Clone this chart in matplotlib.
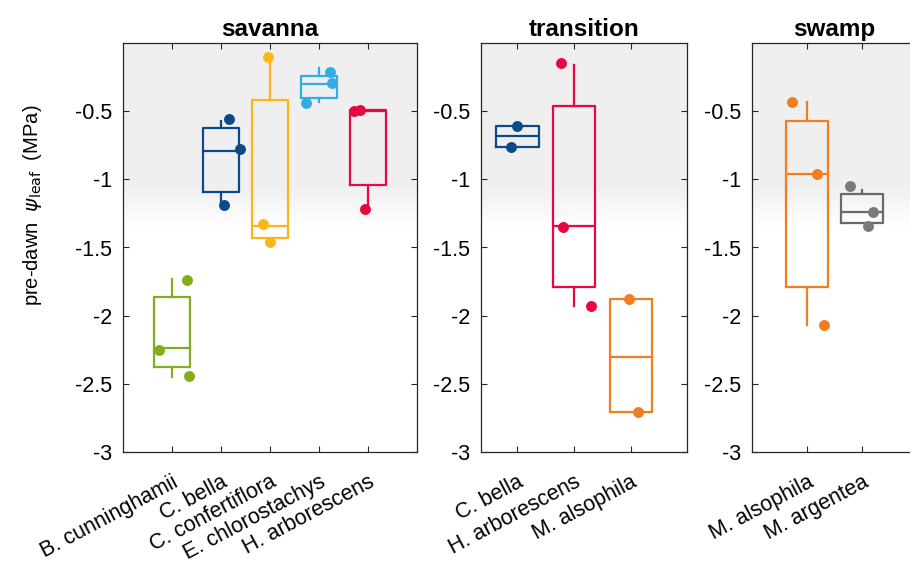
import numpy as np
import matplotlib
matplotlib.use('Agg')
import matplotlib.pyplot as plt
import matplotlib.transforms as mtransforms

plt.rcParams['font.family'] = ['Liberation Sans', 'DejaVu Sans']
plt.rcParams['mathtext.fontset'] = 'dejavusans'

# ------------------------- datos -------------------------
sav_names = ['B. cunninghamii', 'C. bella', 'C. confertiflora', 'E. chlorostachys', 'H. arborescens']
sav_colors = ['#82ad1f', '#0b4a86', '#fbb61a', '#33ade3', '#e6083f']
sav_q1 = [-2.38, -1.09, -1.43, -0.40, -1.04]
sav_med = [-2.24, -0.79, -1.34, -0.30, -0.50]
sav_q3 = [-1.86, -0.62, -0.42, -0.24, -0.49]
sav_lo = [-2.45, -1.17, -1.45, -0.43, -1.21]
sav_hi = [-1.73, -0.57, -0.10, -0.18, -0.49]
sav_pts = [[-1.74, -2.25, -2.44], [-0.56, -0.78, -1.19], [-0.10, -1.33, -1.46],
           [-0.21, -0.29, -0.44], [-0.50, -0.49, -1.22]]
sav_jit = [[0.31, -0.27, 0.35], [0.17, 0.39, 0.06], [-0.04, -0.14, 0.0],
           [0.22, 0.27, -0.27], [-0.29, -0.17, -0.07]]

tra_names = ['C. bella', 'H. arborescens', 'M. alsophila']
tra_colors = ['#0b4a86', '#e6083f', '#f07d1f']
tra_q1 = [-0.76, -1.79, -2.71]
tra_med = [-0.68, -1.34, -2.30]
tra_q3 = [-0.61, -0.46, -1.88]
tra_lo = [-0.76, -1.93, -2.71]
tra_hi = [-0.61, -0.16, -1.88]
tra_pts = [[-0.61, -0.76], [-0.15, -1.35, -1.93], [-1.88, -2.71]]
tra_jit = [[0.0, -0.12], [-0.23, -0.20, 0.30], [-0.04, 0.12]]

swa_names = ['M. alsophila', 'M. argentea']
swa_colors = ['#f07d1f', '#6a6a6a']
swa_q1 = [-1.79, -1.32]
swa_med = [-0.96, -1.24]
swa_q3 = [-0.57, -1.11]
swa_lo = [-2.07, -1.32]
swa_hi = [-0.43, -1.08]
swa_pts = [[-0.43, -0.96, -2.07], [-1.05, -1.24, -1.34]]
swa_jit = [[-0.27, 0.18, 0.31], [-0.22, 0.20, 0.11]]

yticks = [-3, -2.5, -2, -1.5, -1, -0.5]

# ------------------------- figura -------------------------
fig = plt.figure(figsize=(9.1, 5.69), dpi=100)
H = 569.0
W = 910.0
bottom = 1 - 452 / H
height = (452 - 43) / H

paneles = [
    ('savanna', 123, 294, (0, 6), sav_names, sav_colors, sav_q1, sav_med, sav_q3, sav_lo, sav_hi, sav_pts, sav_jit),
    ('transition', 481, 206, (0.36, 3.99), tra_names, tra_colors, tra_q1, tra_med, tra_q3, tra_lo, tra_hi, tra_pts, tra_jit),
    ('swamp', 752, 165, (0, 3), swa_names, swa_colors, swa_q1, swa_med, swa_q3, swa_lo, swa_hi, swa_pts, swa_jit),
]

for (titulo, x0, w, xlim, names, colors, q1, med, q3, lo, hi, pts, jit) in paneles:
    ax = fig.add_axes([x0 / W, bottom, w / W, height])
    ax.set_xlim(*xlim)
    ax.set_ylim(-3, 0)

    # banda gris de fondo
    ys = np.linspace(0, -1.45, 200)
    alpha = np.clip((ys + 1.35) / 0.3, 0, 1)
    img = np.zeros((200, 2, 4))
    img[..., :3] = 0.94
    img[..., 3] = alpha[:, None]
    ax.imshow(img, extent=[xlim[0], xlim[1], -1.45, 0], aspect='auto', zorder=0,
              interpolation='bilinear')

    for i in range(len(names)):
        pos = i + 1
        st = [{'q1': q1[i], 'med': med[i], 'q3': q3[i], 'whislo': lo[i], 'whishi': hi[i], 'fliers': []}]
        c = colors[i]
        ax.bxp(st, positions=[pos], widths=0.75, showcaps=False, showfliers=False,
               boxprops=dict(color=c, linewidth=1.6),
               whiskerprops=dict(color=c, linewidth=1.6),
               medianprops=dict(color=c, linewidth=1.6),
               manage_ticks=False)
        xs = [pos + j for j in jit[i]]
        pc = '#7a7a7a' if c == '#6a6a6a' else c
        ax.scatter(xs, pts[i], s=62, color=pc, zorder=5, linewidths=0)

    ax.set_xticks(range(1, len(names) + 1))
    ax.set_xticklabels(names, fontsize=15.5, rotation=28, ha='right', va='top',
                       rotation_mode='anchor')
    off = mtransforms.ScaledTranslation(11 / 100, 0, fig.dpi_scale_trans)
    for lab in ax.get_xticklabels():
        lab.set_transform(lab.get_transform() + off)
    ax.set_yticks(yticks)
    ax.set_yticklabels(['-3', '-2.5', '-2', '-1.5', '-1', '-0.5'], fontsize=15.5)
    ax.tick_params(axis='x', direction='in', top=True, length=4, pad=14, colors='#262626',
                   labelcolor='black')
    ax.tick_params(axis='y', direction='in', right=True, length=4, pad=8, colors='#262626',
                   labelcolor='black')
    for s in ax.spines.values():
        s.set_color('#262626')
        s.set_linewidth(0.9)
    ax.set_title(titulo, fontsize=17.5, fontweight='bold', pad=5)

fig.text(33 / W, 1 - 205 / H, r'pre-dawn $\;\psi_{\mathrm{leaf}}\;$ (MPa)', rotation=90,
         ha='center', va='center', fontsize=14.5)

fig.savefig('out.png', dpi=100, facecolor='white')
